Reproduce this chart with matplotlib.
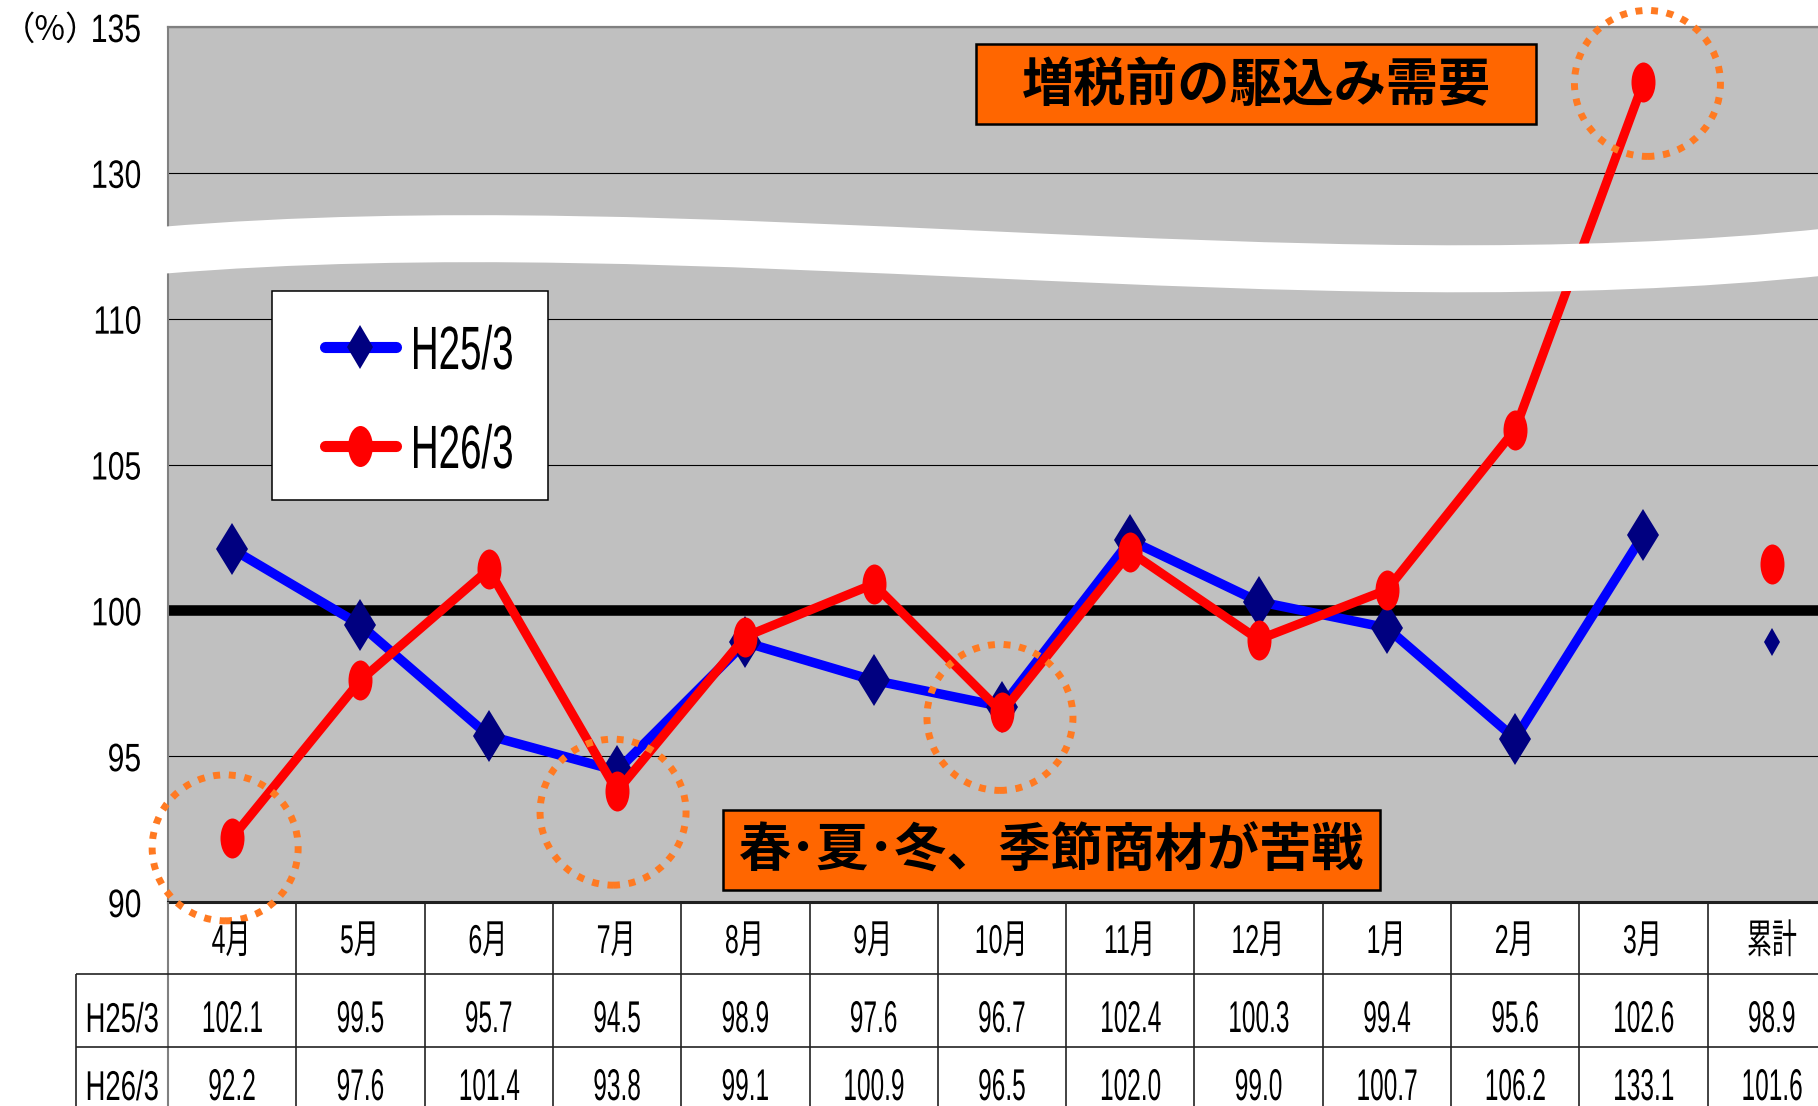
import numpy as np
import matplotlib
matplotlib.use('Agg')
import matplotlib.pyplot as plt
from matplotlib.lines import Line2D
from matplotlib.markers import MarkerStyle
from matplotlib.patches import Ellipse, Rectangle, PathPatch
from matplotlib.path import Path
from matplotlib.patheffects import AbstractPathEffect
from matplotlib.transforms import Affine2D

# ---- data ----
months = ['4月', '5月', '6月', '7月', '8月', '9月', '10月', '11月', '12月', '1月', '2月', '3月']
total_label = '累計'
series_names = ['H25/3', 'H26/3']
h25 = [102.1, 99.5, 95.7, 94.5, 98.9, 97.6, 96.7, 102.4, 100.3, 99.4, 95.6, 102.6]
h26 = [92.2, 97.6, 101.4, 93.8, 99.1, 100.9, 96.5, 102.0, 99.0, 100.7, 106.2, 133.1]
h25_total = 98.9
h26_total = 101.6
y_ticks = [90, 95, 100, 105, 110, 130, 135]
base_value = 100
note_rush = '増税前の駆込み需要'
note_season = '春･夏･冬、季節商材が苦戦'
circled = [0, 3, 6, 11]  # H26 months that get an orange ring

# ---- layout (figure pixels) ----
W, H = 1818, 1106
AX_L, AX_R, AX_T, AX_B = 168, 1818, 27, 902
COL_W = 128.3
ROW_LINES = [974, 1047]
ROW_BASE = [953, 1032, 1100]
LABEL_L = 76

JP = 'Noto Sans CJK JP'
plt.rcParams['font.family'] = ['Liberation Sans', JP, 'DejaVu Sans']


class Squeeze(AbstractPathEffect):
    """Draw text horizontally condensed (the original uses a narrow font)."""

    def __init__(self, sx, anchor='center'):
        super().__init__()
        self.sx = sx
        self.anchor = anchor

    def draw_path(self, renderer, gc, tpath, affine, rgbFace=None):
        ext = tpath.get_extents()
        cx = {'left': ext.x0, 'center': (ext.x0 + ext.x1) / 2, 'right': ext.x1}[self.anchor]
        t = Affine2D().translate(-cx, 0).scale(self.sx, 1).translate(cx, 0) + affine
        renderer.draw_path(gc, tpath, t, rgbFace)


def fwd(v):
    v = np.asarray(v, dtype=float)
    return np.where(v <= 110, v, np.where(v >= 130, v - 15, 110 + (v - 110) * 0.25))


def inv(y):
    y = np.asarray(y, dtype=float)
    return np.where(y <= 110, y, np.where(y >= 115, y + 15, 110 + (y - 110) * 4))


fig = plt.figure(figsize=(W / 100, H / 100), dpi=100)
px = Affine2D().scale(1 / W, -1 / H).translate(0, 1) + fig.transFigure

ax = fig.add_axes([AX_L / W, 1 - AX_B / H, (AX_R - AX_L) / W, (AX_B - AX_T) / H])
ax.set_facecolor('#C0C0C0')
ax.set_yscale('function', functions=(fwd, inv))
ax.set_ylim(90, 135)
ax.set_xlim(-0.5, -0.5 + (AX_R - AX_L) / COL_W)
ax.set_xticks([])
ax.set_yticks(y_ticks)
ax.yaxis.set_minor_locator(matplotlib.ticker.NullLocator())
ax.set_yticklabels([str(t) for t in y_ticks], fontsize=28.5,
                   path_effects=[Squeeze(0.76, 'right')])
ax.tick_params(axis='y', length=0, pad=19)
ax.grid(axis='y', color='black', lw=0.8, zorder=1)
ax.set_axisbelow(True)
ax.spines['right'].set_visible(False)
ax.spines['top'].set_color('#808080')
ax.spines['top'].set_linewidth(1.6)
ax.spines['left'].set_color('#808080')
ax.spines['left'].set_linewidth(1.5)
ax.spines['bottom'].set_color('#202020')
ax.spines['bottom'].set_linewidth(2.2)

ax.axhline(base_value, color='black', lw=7.6, zorder=2)

x = np.arange(len(months))
ellipse_marker = MarkerStyle('o', transform=Affine2D().scale(0.6, 1.0))
ax.plot(x, h25, color='#0000FF', lw=6.8, marker='d', ms=26.5, mfc='#000080', mec='#000080',
        mew=0, solid_joinstyle='round', zorder=3)
ax.plot(x, h26, color='#FF0000', lw=6.5, marker=ellipse_marker, ms=28.8, mfc='#FF0000',
        mec='#FF0000', mew=0, solid_joinstyle='round', zorder=4)
ax.plot([len(months)], [h25_total], ls='none', marker='d', ms=14.3, mfc='#000080', mew=0, zorder=3)
ax.plot([len(months)], [h26_total], ls='none', marker=ellipse_marker, ms=28.8, mfc='#FF0000',
        mew=0, zorder=4)

# orange dotted rings
unit_px = (AX_B - AX_T) / 30.0
ring_r = 73
ring_shift = {0: (-7, 10), 3: (-4, 21), 6: (-2, 5), 11: (4, 1)}
for i in circled:
    dx, dy = ring_shift[i]
    ring = Ellipse((i + dx / COL_W, h26[i] - dy / unit_px), 2 * ring_r / COL_W, 2 * ring_r / unit_px,
                   fill=False, edgecolor='#FF7A22', lw=5.0, ls=(0, (1, 1.25)), clip_on=False, zorder=5)
    ax.add_patch(ring)

# wavy white band over the axis break
top = [(160, 227), (700, 182), (1300, 284), (1830, 228)]
gap = 47
codes = [Path.MOVETO, Path.CURVE4, Path.CURVE4, Path.CURVE4, Path.LINETO,
         Path.CURVE4, Path.CURVE4, Path.CURVE4, Path.CLOSEPOLY]
verts = top + [(p[0], p[1] + gap) for p in top[::-1]] + [top[0]]
band = PathPatch(Path(verts, codes), facecolor='white', edgecolor='none', transform=px,
                 clip_on=False, zorder=6)
ax.add_patch(band)

# callout boxes
for (bx, by, bw, bh), txt in [((976, 44, 560, 80), note_rush), ((723, 810, 657, 80), note_season)]:
    ax.add_patch(Rectangle((bx, by), bw, bh, facecolor='#FF6600', edgecolor='black', lw=1.8,
                           transform=px, clip_on=False, zorder=7))
    ax.text(bx + bw / 2, by + bh / 2 + 1, txt, transform=px, ha='center', va='center', fontsize=37.5,
            family=JP, weight='bold', zorder=8)

# legend
ax.add_patch(Rectangle((272, 291), 276, 209, facecolor='white', edgecolor='black', lw=1.1,
                       transform=px, clip_on=False, zorder=9))
legend_rows = [(347, '#0000FF', dict(marker='d', ms=22.4, mfc='#000080')),
               (446, '#FF0000', dict(marker=ellipse_marker, ms=29.5, mfc='#FF0000'))]
for (ly, lc, mk), name in zip(legend_rows, series_names):
    ax.add_line(Line2D([325, 396], [ly, ly], color=lc, lw=8, solid_capstyle='round',
                       transform=px, clip_on=False, zorder=10))
    ax.add_line(Line2D([360], [ly], ls='none', mew=0, transform=px, clip_on=False, zorder=11, **mk))
    ax.text(409, ly + 22, name, transform=px, ha='left', va='baseline', fontsize=44, zorder=11,
            path_effects=[Squeeze(0.63, 'left')])

ax.text(2, 30, '（%）', transform=px, ha='left', va='center', fontsize=24, family=JP)

# data table under the plot
tax = fig.add_axes([0, 0, 1, 1 - AX_B / H])
tax.set_xlim(-0.5 - AX_L / COL_W, -0.5 + (AX_R - AX_L) / COL_W)
tax.set_ylim(H, AX_B)
tax.axis('off')
label_x = -0.5 - (AX_L - LABEL_L) / COL_W
n_cols = len(months) + 1
tax.vlines(np.arange(1, n_cols + 1) - 0.5, AX_B, H, color='#222222', lw=1.2)
tax.vlines([-0.5], AX_B, H, color='#808080', lw=1.5)
tax.vlines([label_x], ROW_LINES[0], H, color='#222222', lw=1.2)
tax.hlines(ROW_LINES, label_x, n_cols, color='#222222', lw=1.2)

for i, m in enumerate(months + [total_label]):
    tax.text(i, ROW_BASE[0], m, ha='center', va='baseline', fontsize=29,
             path_effects=[Squeeze(0.62)])
for row, vals in zip(ROW_BASE[1:], [h25 + [h25_total], h26 + [h26_total]]):
    for i, v in enumerate(vals):
        tax.text(i, row, f'{v:.1f}', ha='center', va='baseline', fontsize=32,
                 path_effects=[Squeeze(0.55)])
for row, name in zip(ROW_BASE[1:], series_names):
    tax.text((label_x - 0.5) / 2, row, name, ha='center', va='baseline', fontsize=30,
             path_effects=[Squeeze(0.66)])

fig.savefig('out.png', dpi=100)
